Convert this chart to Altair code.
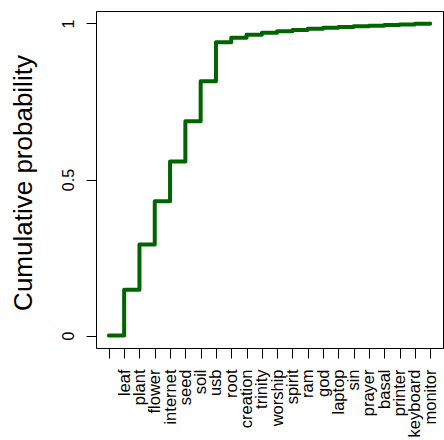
import json
import altair as alt
import pandas as pd

words = ["leaf", "plant", "flower", "internet", "seed", "soil", "usb", "root",
         "creation", "trinity", "worship", "spirit", "ram", "god", "laptop", "sin",
         "prayer", "basal", "printer", "keyboard", "monitor"]
cum_prob = [0.0, 0.147, 0.292, 0.430, 0.558, 0.687, 0.815, 0.940, 0.954, 0.964,
            0.970, 0.975, 0.979, 0.983, 0.986, 0.989, 0.991, 0.993, 0.995, 0.997,
            0.999, 1.0]
y_ticks = [0, 0.5, 1]

idx = list(range(len(cum_prob)))
df = pd.DataFrame({"i": idx, "p": cum_prob})

n = len(cum_prob) - 1
pad_x = 0.04 * n
label_expr = "datum.value == 0 ? '' : " + json.dumps(words) + "[datum.value - 1]"

FONT = "Liberation Sans"

chart = alt.Chart(df).mark_line(
    interpolate="step-after", color="#006400", strokeWidth=4,
    strokeCap="round", strokeJoin="round"
).encode(
    x=alt.X("i:Q",
            scale=alt.Scale(domain=[-pad_x, n + pad_x], nice=False, zero=False),
            axis=alt.Axis(values=idx, labelExpr=label_expr, title="",
                          grid=False, domain=False, tickSize=10, tickColor="black",
                          labelAngle=270, labelAlign="right", labelBaseline="middle",
                          labelPadding=11, labelFontSize=16.5, labelFont=FONT,
                          labelColor="black", labelOverlap=False, labelFlush=False)),
    y=alt.Y("p:Q",
            scale=alt.Scale(domain=[-0.04, 1.04], nice=False, zero=False),
            axis=alt.Axis(values=y_ticks, format=".1~f", title="Cumulative probability",
                          grid=False, domain=False, tickSize=10, tickColor="black",
                          labelAngle=270, labelAlign="center", labelBaseline="bottom",
                          labelPadding=10, labelFontSize=16, labelFont=FONT,
                          labelColor="black", labelFlush=False,
                          titleFont=FONT, titleFontSize=26, titleFontWeight="normal",
                          titleColor="black", titleAngle=270, titleX=-65, titleY=171.5,
                          titleAlign="center", titleBaseline="alphabetic")),
).properties(
    width=347, height=337,
    autosize=alt.AutoSizeParams(type="none"),
    padding={"left": 96, "top": 11, "right": 1, "bottom": 92},
).configure(
    background="white"
).configure_view(
    stroke="black", strokeWidth=1
)

chart.save("out.html", embed_options={"renderer": "svg", "actions": False})
